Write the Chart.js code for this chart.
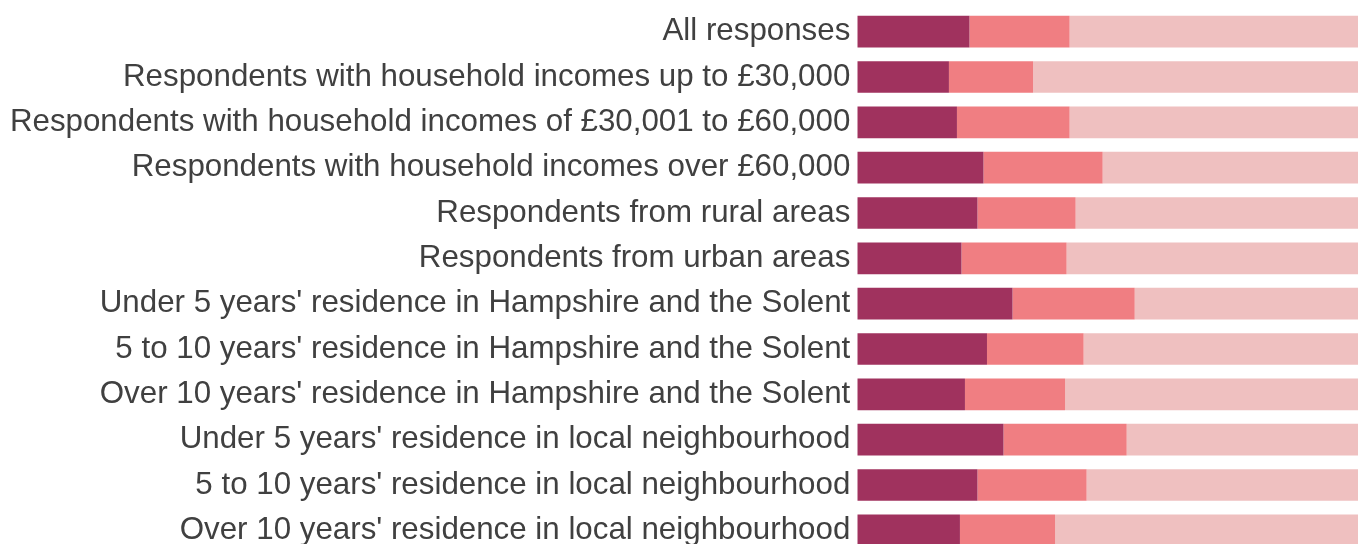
<!DOCTYPE html>
<html>
<head>
<meta charset="utf-8">
<script src="https://cdn.jsdelivr.net/npm/chart.js@4"></script>
<style>
  html, body { margin: 0; padding: 0; background: #fff; overflow: hidden; }
  #wrap { width: 1358px; height: 553px; position: relative; }
</style>
</head>
<body>
<div id="wrap"><canvas id="chart"></canvas></div>
<script>
const labels = [
  "All responses",
  "Respondents with household incomes up to £30,000",
  "Respondents with household incomes of £30,001 to £60,000",
  "Respondents with household incomes over £60,000",
  "Respondents from rural areas",
  "Respondents from urban areas",
  "Under 5 years' residence in Hampshire and the Solent",
  "5 to 10 years' residence in Hampshire and the Solent",
  "Over 10 years' residence in Hampshire and the Solent",
  "Under 5 years' residence in local neighbourhood",
  "5 to 10 years' residence in local neighbourhood",
  "Over 10 years' residence in local neighbourhood"
];
const darkValues = [22.4, 18.3, 19.9, 25.2, 24.0, 20.8, 31.0, 25.9, 21.5, 29.2, 24.0, 20.5];
const midValues = [20.0, 16.8, 22.5, 23.8, 19.6, 21.0, 24.4, 19.3, 20.0, 24.6, 21.8, 19.0];
const lightValues = [57.6, 64.9, 57.6, 51.0, 56.4, 58.2, 44.6, 54.8, 58.5, 46.2, 54.2, 60.5];

const ctx = document.getElementById('chart');
new Chart(ctx, {
  type: 'bar',
  data: {
    labels,
    datasets: [
      { data: darkValues, backgroundColor: '#a0325e' },
      { data: midValues, backgroundColor: '#f07e82' },
      { data: lightValues, backgroundColor: '#efc0c0' }
    ]
  },
  options: {
    indexAxis: 'y',
    responsive: true,
    maintainAspectRatio: false,
    animation: false,
    layout: { padding: { top: 9, right: 0, bottom: 0, left: 0 } },
    datasets: { bar: { categoryPercentage: 1, barPercentage: 0.7 } },
    plugins: { legend: { display: false }, tooltip: { enabled: false } },
    scales: {
      x: { stacked: true, min: 0, max: 100, display: false },
      y: {
        stacked: true,
        grid: { display: false, drawTicks: false },
        border: { display: false },
        ticks: {
          color: '#404040',
          padding: 7,
          font: { family: 'Liberation Sans, Arial, sans-serif', size: 31.3 }
        },
        afterFit: (axis) => {
          axis.width = 857.3;
          axis.paddingTop = 0;
          axis.paddingBottom = 0;
        }
      }
    }
  }
});
</script>
</body>
</html>
